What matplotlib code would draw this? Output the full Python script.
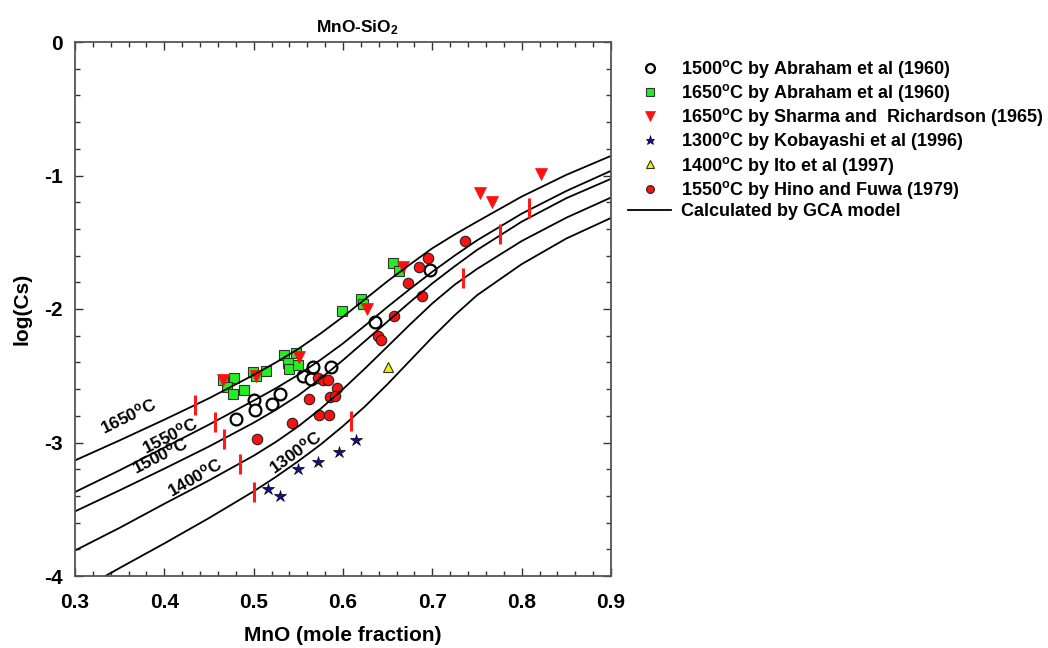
import numpy as np
import matplotlib
matplotlib.use('Agg')
import matplotlib.pyplot as plt
from matplotlib.ticker import MultipleLocator

plt.rcParams['font.family'] = ['Liberation Sans', 'DejaVu Sans']
plt.rcParams['font.weight'] = 'bold'
plt.rcParams['axes.unicode_minus'] = False
plt.rcParams['mathtext.fontset'] = 'custom'
plt.rcParams['mathtext.rm'] = 'Liberation Sans:bold'
plt.rcParams['mathtext.bf'] = 'Liberation Sans:bold'
plt.rcParams['mathtext.it'] = 'Liberation Sans:bold'

# GCA model isotherms, log(Cs) vs MnO mole fraction
xCurve = [0.3, 0.35, 0.4, 0.45, 0.5, 0.525, 0.55, 0.575, 0.6, 0.625,
          0.65, 0.675, 0.7, 0.725, 0.75, 0.8, 0.85, 0.9]
y1650 = [-3.134, -2.984, -2.829, -2.669, -2.494, -2.400, -2.299, -2.183, -2.058,
         -1.925, -1.791, -1.666, -1.545, -1.442, -1.346, -1.158, -0.995, -0.853]
y1550 = [-3.371, -3.208, -3.038, -2.866, -2.686, -2.593, -2.493, -2.380, -2.258,
         -2.122, -1.983, -1.850, -1.721, -1.600, -1.486, -1.286, -1.116, -0.965]
y1500 = [-3.516, -3.358, -3.196, -3.030, -2.852, -2.754, -2.647, -2.520, -2.383,
         -2.238, -2.093, -1.948, -1.808, -1.680, -1.558, -1.346, -1.170, -1.025]
y1400 = [-3.809, -3.639, -3.459, -3.284, -3.099, -2.995, -2.879, -2.747, -2.600,
         -2.443, -2.280, -2.116, -1.958, -1.818, -1.700, -1.491, -1.316, -1.165]
x1300 = [0.334, 0.35, 0.4, 0.45, 0.5, 0.525, 0.55, 0.575, 0.6, 0.625,
         0.65, 0.675, 0.7, 0.725, 0.75, 0.8, 0.85, 0.9]
y1300 = [-4.0, -3.94, -3.756, -3.566, -3.366, -3.257, -3.140, -3.015, -2.877,
         -2.727, -2.562, -2.387, -2.212, -2.047, -1.897, -1.664, -1.472, -1.318]

# composition limits (red bars)
limX = [0.4345, 0.4567, 0.4668, 0.4847, 0.5008, 0.609, 0.7338, 0.7759, 0.8084]
limY = [-2.72, -2.85, -2.975, -3.16, -3.37, -2.84, -1.77, -1.44, -1.24]

# experimental data
abr1500X = [0.4803, 0.5004, 0.5016, 0.5203, 0.5296, 0.5550, 0.5669, 0.5643, 0.5867, 0.6359, 0.6975]
abr1500Y = [-2.821, -2.678, -2.753, -2.713, -2.633, -2.501, -2.434, -2.521, -2.434, -2.096, -1.708]
abr1650X = [0.4654, 0.4781, 0.4699, 0.4766, 0.4896, 0.4990, 0.5027, 0.5135, 0.5340, 0.5475,
            0.5389, 0.5400, 0.5501, 0.5987, 0.6203, 0.6222, 0.6564, 0.6632]
abr1650Y = [-2.533, -2.516, -2.584, -2.633, -2.603, -2.471, -2.503, -2.466, -2.341, -2.333,
            -2.401, -2.446, -2.421, -2.016, -1.923, -1.966, -1.658, -1.713]
sha1650X = [0.4657, 0.5027, 0.5512, 0.6273, 0.6677, 0.7528, 0.7670, 0.8218]
sha1650Y = [-2.533, -2.503, -2.363, -2.003, -1.683, -1.133, -1.196, -0.990]
kob1300X = [0.5161, 0.5296, 0.5501, 0.5725, 0.5960, 0.6150]
kob1300Y = [-3.349, -3.398, -3.196, -3.143, -3.068, -2.984]
ito1400X = [0.6508]
ito1400Y = [-2.432]
hin1550X = [0.5035, 0.5433, 0.5624, 0.5729, 0.5844, 0.5716, 0.5781, 0.5837, 0.5931, 0.5850,
            0.5912, 0.6396, 0.6430, 0.6572, 0.6732, 0.6856, 0.6882, 0.6950, 0.7364]
hin1550Y = [-2.976, -2.854, -2.676, -2.791, -2.796, -2.518, -2.533, -2.533, -2.593, -2.659,
            -2.653, -2.203, -2.233, -2.053, -1.803, -1.688, -1.901, -1.618, -1.491]

curveLabels = ['1650$^\\mathbf{o}$C', '1550$^\\mathbf{o}$C', '1500$^\\mathbf{o}$C',
               '1400$^\\mathbf{o}$C', '1300$^\\mathbf{o}$C']
labelX = [0.3597, 0.4064, 0.3952, 0.4344, 0.5471]
labelY = [-2.801, -2.946, -3.096, -3.259, -3.071]
labelRot = [26, 27, 27, 30, 36]

fig = plt.figure(figsize=(10.48, 6.48), dpi=100)
ax = fig.add_axes([75/1048, 1-576/648, 536/1048, 534/648])

ax.plot(abr1500X, abr1500Y, 'o', ms=8.5, mfc='white', mec='black', mew=1.6,
        label='1500$^\\mathbf{o}$C by Abraham et al (1960)')
ax.plot(abr1650X, abr1650Y, 's', ms=7.2, mfc='#22ee22', mec='#333333', mew=0.8,
        label='1650$^\\mathbf{o}$C by Abraham et al (1960)')
ax.plot(sha1650X, sha1650Y, 'v', ms=9, mfc='#ff1010', mec='#ff1010', mew=0.5,
        label='1650$^\\mathbf{o}$C by Sharma and  Richardson (1965)')
ax.plot(kob1300X, kob1300Y, '*', ms=9, mfc='#101090', mec='black', mew=0.5,
        label='1300$^\\mathbf{o}$C by Kobayashi et al (1996)')
ax.plot(ito1400X, ito1400Y, '^', ms=7.5, mfc='#f8f000', mec='#333333', mew=0.8,
        label='1400$^\\mathbf{o}$C by Ito et al (1997)')
ax.plot(hin1550X, hin1550Y, 'o', ms=7.5, mfc='#ff1010', mec='#222222', mew=0.8,
        label='1550$^\\mathbf{o}$C by Hino and Fuwa (1979)')

ax.plot(xCurve, y1650, 'k-', lw=1.3, label='Calculated by GCA model')
ax.plot(xCurve, y1550, 'k-', lw=1.3)
ax.plot(xCurve, y1500, 'k-', lw=1.3)
ax.plot(xCurve, y1400, 'k-', lw=1.3)
ax.plot(x1300, y1300, 'k-', lw=1.3)

ax.plot(limX, limY, linestyle='none', marker='|', ms=14, mew=2.2, color='#ff1a1a')

for j in range(len(curveLabels)):
    ax.text(labelX[j], labelY[j], curveLabels[j], rotation=labelRot[j],
            ha='center', va='center', fontsize=12.5, fontweight='bold')

ax.set_xlim(0.3, 0.9)
ax.set_ylim(-4, 0)
ax.set_xticks([0.3, 0.4, 0.5, 0.6, 0.7, 0.8, 0.9])
ax.set_xticklabels(['0.3', '0.4', '0.5', '0.6', '0.7', '0.8', '0.9'])
ax.set_yticks([0, -1, -2, -3, -4])
ax.set_yticklabels(['0', '-1', '-2', '-3', '-4'])
ax.xaxis.set_minor_locator(MultipleLocator(0.02))
ax.yaxis.set_minor_locator(MultipleLocator(0.2))
ax.tick_params(which='both', direction='in', top=True, right=True,
               color='#333333', width=1.0)
ax.tick_params(which='major', length=6, labelsize=15)
ax.tick_params(which='minor', length=3.5)
ax.tick_params(axis='x', which='major', pad=12)
ax.tick_params(axis='y', which='major', pad=9)
for s in ax.spines.values():
    s.set_color('#555555')
    s.set_linewidth(1.3)

ax.set_xlabel('MnO (mole fraction)', fontsize=15, fontweight='bold')
ax.xaxis.set_label_coords(0.5, -0.093)
ax.set_ylabel('log(Cs)', fontsize=15, fontweight='bold')
ax.yaxis.set_label_coords(-0.082, 0.5)

fig.text(357/1048, 1-28/648, 'MnO-SiO$_\\mathbf{2}$', ha='center', va='center',
         fontsize=12.5, fontweight='bold')

ax.legend(loc='upper left', bbox_to_anchor=(628/1048, 1-58/648),
          bbox_transform=fig.transFigure, frameon=False,
          prop={'size': 13, 'weight': 'bold'}, handlelength=2.4,
          handletextpad=0.55, labelspacing=0.12, borderpad=0, borderaxespad=0,
          markerscale=0.75)

fig.savefig('out.png', dpi=100)
